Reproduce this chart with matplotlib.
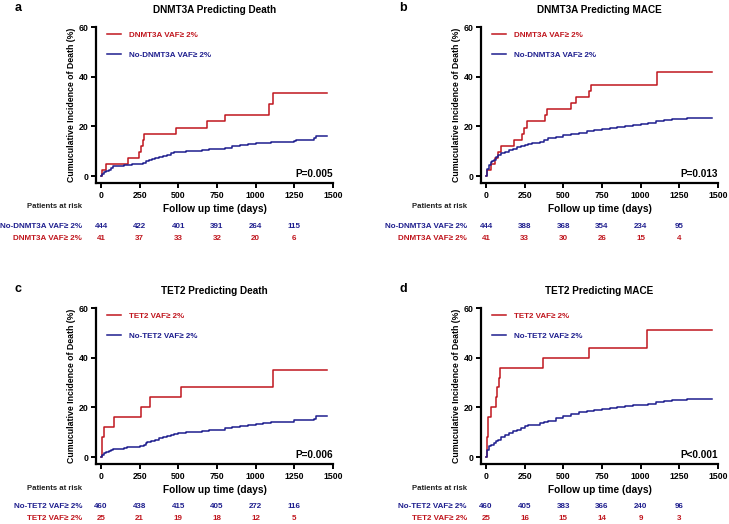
import matplotlib
matplotlib.use("Agg")
import matplotlib.pyplot as plt
import matplotlib.transforms as mtransforms

plt.rcParams['font.family'] = ['Liberation Sans', 'DejaVu Sans']
plt.rcParams['font.weight'] = 'bold'

RED = '#C0161E'
BLUE = '#1E1E8E'

# ---------------- data ----------------
# Panel a: DNMT3A predicting death
a_red_t = [0, 10, 32, 172, 247, 262, 273, 280, 488, 684, 800, 1087, 1112, 1460]
a_red_y = [0, 2.4, 4.9, 7.3, 9.8, 12.2, 14.6, 17.1, 19.5, 22.0, 24.4, 29.0, 33.3, 33.3]
a_blue_t = [0, 10, 20, 35, 50, 65, 80, 100, 150, 200, 250, 270, 290, 310, 330, 350, 375, 400,
            425, 450, 475, 500, 550, 600, 650, 700, 750, 800, 850, 900, 950, 1000, 1050, 1100,
            1250, 1260, 1380, 1390, 1460]
a_blue_y = [0, 0.8, 1.5, 2.1, 2.6, 3.2, 4.0, 4.2, 4.5, 4.7, 5.0, 5.4, 5.9, 6.3, 6.7, 7.1, 7.6, 8.1,
            8.6, 9.1, 9.5, 9.8, 10.0, 10.2, 10.5, 10.7, 10.9, 11.3, 11.9, 12.3, 12.8, 13.2, 13.5, 13.7,
            14.0, 14.5, 15.2, 16.0, 16.0]

# Panel b: DNMT3A predicting MACE
b_red_t = [0, 10, 30, 60, 80, 98, 179, 235, 246, 268, 384, 392, 549, 584, 667, 680, 1103, 1460]
b_red_y = [0, 2.4, 4.9, 7.3, 9.8, 12.2, 14.6, 17.1, 19.5, 22.0, 24.4, 26.8, 29.3, 31.7, 34.1, 36.6, 42.0, 42.0]
b_blue_t = [0, 5, 10, 20, 30, 40, 50, 65, 80, 100, 125, 150, 175, 200, 225, 250, 275, 300, 350,
            375, 400, 450, 500, 550, 600, 650, 700, 750, 800, 850, 900, 950, 1000, 1050, 1100,
            1150, 1200, 1300, 1460]
b_blue_y = [0, 1.5, 3.0, 4.3, 5.5, 6.0, 6.5, 7.5, 8.5, 9.3, 9.8, 10.5, 11.0, 11.5, 12.0, 12.5, 13.0, 13.3, 13.8,
            14.5, 15.2, 15.8, 16.5, 17.0, 17.5, 18.1, 18.7, 18.9, 19.2, 19.7, 20.2, 20.5, 20.8, 21.2, 22.0,
            22.5, 23.0, 23.2, 23.2]

# Panel c: TET2 predicting death
c_red_t = [0, 4, 10, 22, 84, 262, 320, 516, 1112, 1460]
c_red_y = [0, 4.0, 8.0, 12.0, 16.0, 20.0, 24.0, 28.0, 35.2, 35.2]
c_blue_t = [0, 10, 20, 35, 50, 65, 80, 150, 170, 250, 280, 290, 300, 325, 350, 375, 400, 425, 450,
            475, 500, 550, 600, 650, 700, 750, 800, 850, 900, 950, 1000, 1050, 1100, 1200, 1250,
            1380, 1390, 1460]
c_blue_y = [0, 0.8, 1.5, 2.0, 2.5, 3.0, 3.3, 3.5, 4.2, 4.5, 5.0, 5.5, 6.2, 6.6, 7.0, 7.5, 8.0, 8.5, 9.0,
            9.4, 9.7, 10.0, 10.2, 10.5, 10.8, 11.0, 11.5, 12.0, 12.5, 12.9, 13.3, 13.7, 14.0, 14.3, 14.8,
            15.5, 16.5, 16.5]

# Panel d: TET2 predicting MACE
d_red_t = [0, 4, 8, 12, 15, 33, 63, 72, 83, 94, 366, 669, 1040, 1460]
d_red_y = [0, 4.0, 8.0, 12.0, 16.0, 20.0, 24.0, 28.0, 32.0, 36.0, 40.0, 44.0, 51.0, 51.0]
d_blue_t = [0, 5, 10, 20, 35, 50, 65, 80, 100, 125, 150, 175, 200, 225, 250, 275, 300, 350, 375,
            400, 450, 500, 550, 600, 650, 700, 750, 800, 850, 900, 950, 1000, 1050, 1100, 1150,
            1200, 1300, 1460]
d_blue_y = [0, 1.5, 3.0, 4.5, 5.0, 5.5, 6.3, 7.0, 8.0, 8.8, 9.5, 10.3, 11.0, 11.8, 12.5, 12.8, 13.0, 13.7, 14.2,
            14.7, 15.6, 16.5, 17.2, 18.0, 18.5, 19.0, 19.3, 19.7, 20.1, 20.5, 20.8, 21.0, 21.5, 22.0, 22.5,
            23.0, 23.3, 23.3]

risk_times = [0, 250, 500, 750, 1000, 1250]
a_risk_blue = [444, 422, 401, 391, 264, 115]
a_risk_red = [41, 37, 33, 32, 20, 6]
b_risk_blue = [444, 388, 368, 354, 234, 95]
b_risk_red = [41, 33, 30, 26, 15, 4]
c_risk_blue = [460, 438, 415, 405, 272, 116]
c_risk_red = [25, 21, 19, 18, 12, 5]
d_risk_blue = [460, 405, 383, 366, 240, 96]
d_risk_red = [25, 16, 15, 14, 9, 3]

x_ticks = [0, 250, 500, 750, 1000, 1250, 1500]
y_ticks = [0, 20, 40, 60]

TOP_ROWS = (207, 226, 239)
BOT_ROWS = (489, 507, 519)

panels = [
    dict(letter='a', title='DNMT3A Predicting Death', gene='DNMT3A', p='P=0.005',
         rt=a_red_t, ry=a_red_y, bt=a_blue_t, by=a_blue_y, rb=a_risk_blue, rr=a_risk_red,
         left=96, top=27, rows=TOP_ROWS),
    dict(letter='b', title='DNMT3A Predicting MACE', gene='DNMT3A', p='P=0.013',
         rt=b_red_t, ry=b_red_y, bt=b_blue_t, by=b_blue_y, rb=b_risk_blue, rr=b_risk_red,
         left=481, top=27, rows=TOP_ROWS),
    dict(letter='c', title='TET2 Predicting Death', gene='TET2', p='P=0.006',
         rt=c_red_t, ry=c_red_y, bt=c_blue_t, by=c_blue_y, rb=c_risk_blue, rr=c_risk_red,
         left=96, top=308, rows=BOT_ROWS),
    dict(letter='d', title='TET2 Predicting MACE', gene='TET2', p='P<0.001',
         rt=d_red_t, ry=d_red_y, bt=d_blue_t, by=d_blue_y, rb=d_risk_blue, rr=d_risk_red,
         left=481, top=308, rows=BOT_ROWS),
]

W, H = 729, 524
fig = plt.figure(figsize=(W / 100, H / 100), dpi=100)

ax_w_px = 237
ax_h_px = 156
FS_RISK = 5.8

for pn in panels:
    left, top = pn['left'], pn['top']
    ax = fig.add_axes([left / W, 1 - (top + ax_h_px) / H, ax_w_px / W, ax_h_px / H])
    red_lab = f"{pn['gene']} VAF\u2265 2%"
    blue_lab = f"No-{pn['gene']} VAF\u2265 2%"
    ax.step(pn['rt'], pn['ry'], where='post', color=RED, lw=1.1, label=red_lab)
    ax.step(pn['bt'], pn['by'], where='post', color=BLUE, lw=1.1, label=blue_lab)
    ax.set_xlim(-32, 1500)
    ax.set_ylim(-2.8, 60)
    ax.set_xticks(x_ticks)
    ax.set_yticks(y_ticks)
    for s in ['top', 'right']:
        ax.spines[s].set_visible(False)
    for s in ['left', 'bottom']:
        ax.spines[s].set_linewidth(1.6)
    ax.tick_params(direction='out', length=3.5, width=1.4, labelsize=6.3, pad=2)
    for lbl in ax.get_xticklabels() + ax.get_yticklabels():
        lbl.set_fontweight('bold')
    ax.set_xlabel('Follow up time (days)', fontsize=7.3, fontweight='bold', labelpad=3)
    ax.set_ylabel('Cumuculative Incidence of Death (%)', fontsize=6.3, fontweight='bold', labelpad=2)
    ax.set_title(pn['title'], fontsize=7.2, fontweight='bold', pad=10)
    ax.text(1.0, 0.025, pn['p'], transform=ax.transAxes, ha='right', va='bottom',
            fontsize=7.2, fontweight='bold')
    ax.legend(loc='upper left', bbox_to_anchor=(0.015, 1.02), frameon=False,
              handlelength=1.8, handletextpad=1.0, labelspacing=1.55,
              labelcolor='linecolor', prop={'weight': 'bold', 'size': 5.8})

    # panel letter
    fig.text(18 / W + (left - 96) / W, 1 - (top - 19) / H, pn['letter'], fontsize=9,
             fontweight='bold', ha='center', va='center')

    # risk table
    tr = mtransforms.blended_transform_factory(ax.transData, fig.transFigure)
    y_hdr, y_r1, y_r2 = [1 - v / H for v in pn['rows']]
    fig.text((left - 41) / W, y_hdr, 'Patients at risk', fontsize=5.6, fontweight='bold',
             ha='center', va='center', color='#222222')
    fig.text((left - 14) / W, y_r1, blue_lab, fontsize=FS_RISK, fontweight='bold',
             ha='right', va='center', color=BLUE)
    fig.text((left - 14) / W, y_r2, red_lab, fontsize=FS_RISK, fontweight='bold',
             ha='right', va='center', color=RED)
    for t, nb, nr in zip(risk_times, pn['rb'], pn['rr']):
        ax.text(t, y_r1, str(nb), transform=tr, fontsize=FS_RISK, fontweight='bold',
                ha='center', va='center', color=BLUE)
        ax.text(t, y_r2, str(nr), transform=tr, fontsize=FS_RISK, fontweight='bold',
                ha='center', va='center', color=RED)

fig.savefig('out.png', dpi=100)
